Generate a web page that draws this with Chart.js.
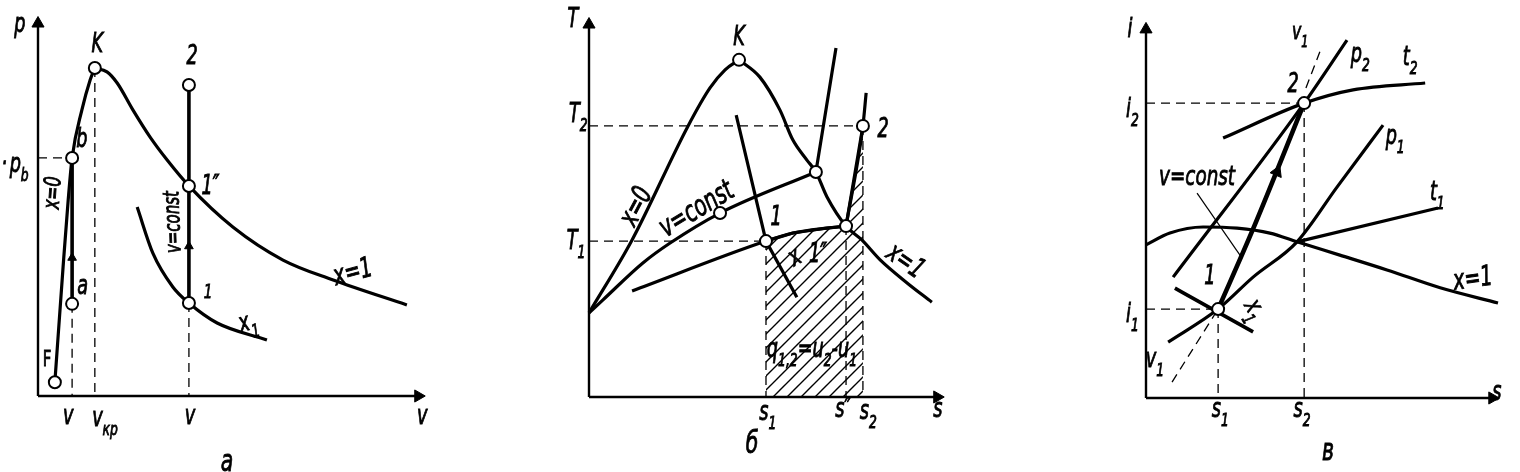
<!DOCTYPE html>
<html>
<head>
<meta charset="utf-8">
<script src="https://cdn.jsdelivr.net/npm/chart.js@4/dist/chart.umd.min.js"></script>
<style>
  body { margin: 0; background: #fff; width: 1520px; height: 472px; overflow: hidden; position: relative; }
  canvas { position: absolute; top: 0; }
</style>
</head>
<body>
<canvas id="pv" width="470" height="472" style="left:0"></canvas>
<canvas id="ts" width="540" height="472" style="left:470px"></canvas>
<canvas id="is" width="510" height="472" style="left:1010px"></canvas>
<script>
// ---- panel а : p–v diagram (units 0..100 along each axis) ----
const aLiquid   = [[4.3,3.6],[6.4,33.6],[7.7,51.0],[8.7,62.0],[11.2,74.5],[13.3,82.3],[14.5,85.4]];
const aVapour   = [[14.5,85.4],[17.6,84.4],[20.2,81.5],[24.2,74.5],[28.6,67.4],[32.9,61.5],[38.5,54.7],[49.7,44.0],[62.5,35.4],[75.3,30.2],[94.1,23.7]];
const aDryness  = [[25.3,49.2],[29.3,37.2],[34.4,28.4],[38.5,24.2],[45.7,19.0],[58.4,14.6]];
const aIsochore = [[38.5,81.0],[38.5,24.2]];
const aHeating  = [[8.7,62.0],[8.7,24.0]];
const aPoints   = [[14.5,85.4],[38.5,81.0],[38.5,54.7],[38.5,24.2],[8.7,62.0],[8.7,24.0],[4.3,3.6]];
const aGuides   = [[[8.7,24.0],[8.7,0]],[[14.5,85.4],[14.5,0]],[[38.5,24.2],[38.5,0]],[[0,62.0],[8.7,62.0]]];
const aArrows   = [[8.7,36],[38.5,39]];

// ---- panel б : T–s diagram ----
const bLiquid   = [[0,21.9],[12.0,40.9],[27.6,70.6],[33.7,80.5],[37.9,85.2],[41.8,87.8]];
const bVapour   = [[41.8,87.8],[47.6,83.3],[53.2,74.7],[56.8,66.9],[60.7,61.7],[63.2,58.6],[66.3,52.1],[71.6,44.5],[76.0,40.9],[81.1,35.7],[88.6,29.7],[95.5,24.7]];
const bIsoUpper = [[0,21.9],[3.9,25.3],[15.0,34.9],[22.6,40.1],[36.5,47.9],[63.2,58.6]];
const bIsoUpperSteep = [[63.2,58.6],[68.8,90.9]];
const bIsoLower = [[12.0,27.6],[49.3,40.6],[56.8,42.7],[66.3,44.0],[71.6,44.5]];
const bIsoLowerSteep = [[71.6,44.5],[76.3,70.6],[77.2,79.2]];
const bDryness  = [[41.0,73.4],[49.3,40.6],[57.9,26.0]];
const bHeat     = [[49.3,40.6],[56.8,42.7],[66.3,44.0],[71.6,44.5],[76.3,70.6]];
const bPoints   = [[41.8,87.8],[36.5,47.9],[63.2,58.6],[49.3,40.6],[71.6,44.5],[76.3,70.6]];
const bGuides   = [[[0,70.6],[76.3,70.6]],[[0,40.6],[49.3,40.6]],[[49.3,40.6],[49.3,0]],[[71.6,44.5],[71.6,0]],[[76.3,70.6],[76.3,0]]];

// ---- panel в : i–s diagram ----
const cVapour   = [[0,40.3],[6.7,43.4],[16.0,45.0],[25.5,44.7],[34.7,43.4],[42.3,41.1],[54.3,37.6],[67.5,33.7],[82.4,29.0],[98.6,25.0]];
const cT1       = [[42.3,41.1],[81.8,50.0]];
const cP1       = [[6.2,14.7],[20.2,23.4],[30.0,31.8],[42.3,41.1],[53.5,55.5],[66.4,71.8]];
const cDryness  = [[8.1,28.9],[30.0,17.4]];
const cP2       = [[7.6,31.8],[44.3,77.6],[56.3,94.2]];
const cT2       = [[21.6,68.4],[44.3,77.6],[58.0,81.1],[78.2,82.9]];
const cProcess  = [[20.2,23.4],[30.0,44.5],[44.3,77.6]];
const cPointer  = [[14.3,53.9],[26.9,36.8]];
const cPoints   = [[20.2,23.4],[44.3,77.6]];
const cGuides   = [[[7.3,4.2],[20.2,23.4]],[[44.8,81.6],[48.7,91.1]],[[0,77.6],[44.3,77.6]],[[0,23.4],[20.2,23.4]],[[20.2,23.4],[20.2,0]],[[44.3,77.6],[44.3,0]]];

// ---- text labels ----
const aLabels = [
  {t:'p', x:-4.6, y:96.6}, {t:'K', x:15.1, y:91.3}, {t:'2', x:39.3, y:88.3},
  {t:'b', x:11.2, y:66.7}, {t:'p_b', x:-4.8, y:60.0}, {t:'·', x:-8.6, y:60.0},
  {t:'F', x:2.3, y:9.4, size:22, upright:true},
  {t:'x=0', x:4.0, y:52.9, rot:-86, size:23}, {t:'1″', x:44.0, y:54.4},
  {t:'v=const', x:34.6, y:45.3, rot:-92, size:22}, {t:'a', x:11.4, y:28.4},
  {t:'1', x:43.4, y:26.8, size:20}, {t:'x=1', x:80.4, y:32.0, rot:-15, size:28},
  {t:'x_1', x:53.6, y:19.0, rot:-15},
  {t:'v', x:7.7, y:-5.5}, {t:'v_{кр}', x:17.1, y:-6.0}, {t:'v', x:38.8, y:-5.5}, {t:'v', x:98.0, y:-5.5},
  {t:'а', x:48.2, y:-17.4, size:30}
];
const bLabels = [
  {t:'T', x:-4.5, y:98.2}, {t:'K', x:41.8, y:93.5},
  {t:'T_2', x:-3.0, y:73.4}, {t:'T_1', x:-3.6, y:40.4},
  {t:'x=0', x:13.4, y:49.5, rot:-62, size:28}, {t:'v=const', x:30.1, y:48.7, rot:-31, size:29},
  {t:'1', x:52.1, y:46.6}, {t:'2', x:81.9, y:69.5},
  {t:'x', x:57.4, y:36.2, rot:-30}, {t:'1″', x:63.8, y:37.0},
  {t:'x=1', x:88.0, y:35.2, rot:35, size:28},
  {t:'q_{1,2}=u_2-u_1', x:62.1, y:12.2},
  {t:'s_1', x:49.8, y:-4.2}, {t:'s″', x:70.8, y:-3.4}, {t:'s_2', x:77.8, y:-3.9}, {t:'s', x:97.2, y:-3.4},
  {t:'б', x:45.4, y:-12.5, size:30}
];
const cLabels = [
  {t:'i', x:-4.5, y:96.8}, {t:'i_2', x:-3.8, y:75.8}, {t:'i_1', x:-3.8, y:21.8},
  {t:'v_1', x:43.2, y:96.1, size:23}, {t:'2', x:41.2, y:82.4},
  {t:'p_2', x:60.0, y:90.3}, {t:'t_2', x:74.0, y:89.5}, {t:'p_1', x:69.8, y:68.7},
  {t:'v=const', x:14.3, y:57.9, size:27}, {t:'t_1', x:81.6, y:53.9},
  {t:'x=1', x:91.6, y:31.1, rot:-8, size:28}, {t:'1', x:17.9, y:31.8},
  {t:'x_1', x:30.3, y:23.2, rot:60}, {t:'v_1', x:2.5, y:10.0},
  {t:'s_1', x:20.8, y:-3.2}, {t:'s_2', x:43.7, y:-3.2}, {t:'s', x:98.3, y:1.3},
  {t:'в', x:51.0, y:-14.2, size:30}
];

const toXY = pts => pts.map(([x, y]) => ({x, y}));

function line(pts, width, extra) {
  return Object.assign({
    data: toXY(pts), showLine: true, borderColor: '#000', borderWidth: width || 3.2,
    pointRadius: 0, cubicInterpolationMode: 'monotone', fill: false, clip: false
  }, extra || {});
}
function dashed(pts) {
  return line(pts, 1.3, {borderDash: [9, 6], cubicInterpolationMode: 'default', tension: 0});
}
function circles(pts) {
  return {data: toXY(pts), showLine: false, pointRadius: 6, pointBackgroundColor: '#fff',
          pointBorderColor: '#000', pointBorderWidth: 2, clip: false, order: -2};
}
function arrows(pts, rots, r) {
  return {data: toXY(pts), showLine: false, pointStyle: 'triangle', pointRadius: r,
          pointRotation: rots, pointBackgroundColor: '#000', pointBorderColor: '#000',
          pointBorderWidth: 1, clip: false, order: -1};
}
function axes() {
  return [
    line([[0,0],[0,98]], 2.4),
    line([[0,0],[98,0]], 2.4),
    arrows([[0,97],[97,0]], [0, 90], 7)
  ];
}

function hatchPattern() {
  const c = document.createElement('canvas');
  c.width = c.height = 14;
  const g = c.getContext('2d');
  g.strokeStyle = '#000';
  g.lineWidth = 1.4;
  g.beginPath();
  g.moveTo(0, 14); g.lineTo(14, 0);
  g.moveTo(-4, 4); g.lineTo(4, -4);
  g.moveTo(10, 18); g.lineTo(18, 10);
  g.stroke();
  return g.createPattern(c, 'repeat');
}

function splitRuns(t) {
  const out = [];
  let i = 0;
  while (i < t.length) {
    if (t[i] === '_') {
      let s;
      if (t[i + 1] === '{') { const j = t.indexOf('}', i); s = t.slice(i + 2, j); i = j + 1; }
      else { s = t[i + 1]; i += 2; }
      out.push({s, sub: true});
    } else {
      let j = i;
      while (j < t.length && t[j] !== '_') j++;
      out.push({s: t.slice(i, j), sub: false});
      i = j;
    }
  }
  return out;
}

function labelPlugin(items) {
  return {
    id: 'textLabels',
    afterDatasetsDraw(chart) {
      const ctx = chart.ctx;
      const xs = chart.scales.x, ys = chart.scales.y;
      items.forEach(it => {
        const size = it.size || 26;
        const font = sz => `${it.upright ? '' : 'italic '}${sz}px "DejaVu Sans"`;
        const parts = splitRuns(it.t);
        ctx.save();
        ctx.translate(xs.getPixelForValue(it.x), ys.getPixelForValue(it.y));
        if (it.rot) ctx.rotate(it.rot * Math.PI / 180);
        ctx.scale(0.68, 1);
        ctx.fillStyle = '#000';
        ctx.strokeStyle = '#000';
        ctx.lineWidth = 0.9;
        ctx.textBaseline = 'middle';
        ctx.textAlign = 'left';
        let w = 0;
        parts.forEach(p => { ctx.font = font(p.sub ? size * 0.7 : size); p.w = ctx.measureText(p.s).width; w += p.w; });
        let x = -w / 2;
        parts.forEach(p => {
          ctx.font = font(p.sub ? size * 0.7 : size);
          const y = p.sub ? size * 0.42 : 0;
          ctx.fillText(p.s, x, y);
          ctx.strokeText(p.s, x, y);
          x += p.w;
        });
        ctx.restore();
      });
    }
  };
}

function makeChart(id, padding, datasets, labels) {
  return new Chart(document.getElementById(id), {
    type: 'scatter',
    data: {datasets},
    options: {
      responsive: false,
      animation: false,
      layout: {padding},
      scales: {
        x: {type: 'linear', min: 0, max: 100, display: false},
        y: {type: 'linear', min: 0, max: 100, display: false}
      },
      plugins: {legend: {display: false}, tooltip: {enabled: false}}
    },
    plugins: [labelPlugin(labels)]
  });
}

document.addEventListener('DOMContentLoaded', function() {
  makeChart('pv', {left: 38, right: 40, top: 12, bottom: 76}, [
    circles(aPoints),
    arrows(aArrows, [0, 0], 5),
    ...axes(),
    line(aLiquid),
    line(aVapour),
    line(aDryness),
    line(aIsochore, 3.6),
    line(aHeating, 3.6),
    ...aGuides.map(dashed)
  ], aLabels);

  makeChart('ts', {left: 119, right: 62, top: 13, bottom: 75}, [
    circles(bPoints),
    ...axes(),
    line(bHeat, 0, {fill: 'origin', backgroundColor: hatchPattern(), cubicInterpolationMode: 'default', tension: 0}),
    line(bLiquid),
    line(bVapour),
    line(bIsoUpper),
    line(bIsoUpperSteep),
    line(bIsoLower),
    line(bIsoLowerSteep),
    line(bDryness, 3.2, {cubicInterpolationMode: 'default', tension: 0}),
    ...bGuides.map(dashed)
  ], bLabels);

  makeChart('is', {left: 136, right: 17, top: 18, bottom: 74}, [
    circles(cPoints),
    arrows([[36.7, 59.5]], [23], 7),
    ...axes(),
    line(cVapour),
    line(cT1),
    line(cP1),
    line(cDryness, 3.6),
    line(cP2),
    line(cT2),
    line(cProcess, 4.6),
    line(cPointer, 1.2),
    ...cGuides.map(dashed)
  ], cLabels);
});
</script>
</body>
</html>
